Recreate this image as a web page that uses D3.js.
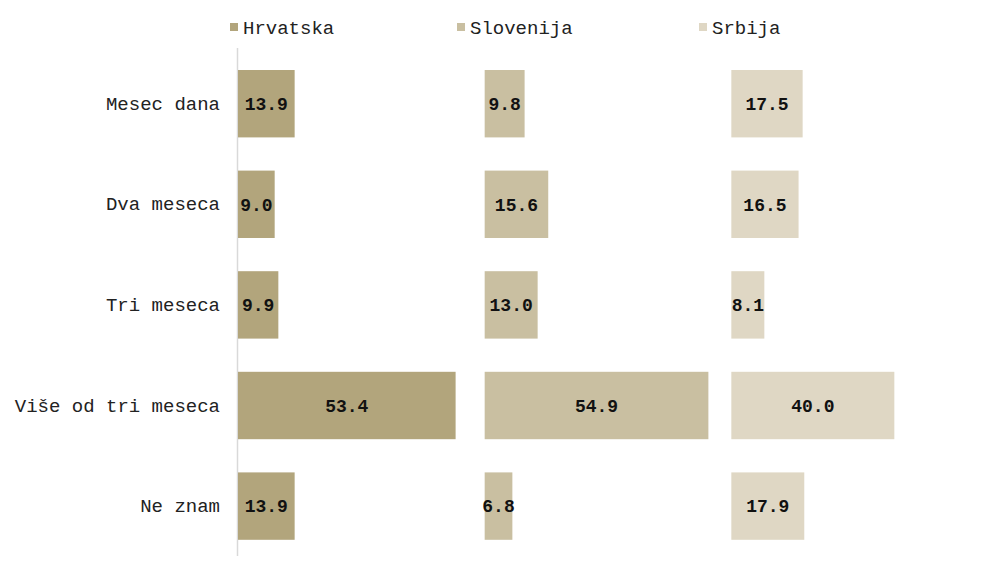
<!DOCTYPE html>
<html>
<head>
<meta charset="utf-8">
<script src="https://cdn.jsdelivr.net/npm/d3@7"></script>
<style>
  html, body { margin: 0; padding: 0; background: #fff; }
  svg { display: block; }
  text { font-family: "Liberation Mono", "Courier New", monospace; }
</style>
</head>
<body>
<svg id="chart" width="1000" height="562"></svg>
<script>
const categories = ["Mesec dana", "Dva meseca", "Tri meseca", "Više od tri meseca", "Ne znam"];
const countries = ["Hrvatska", "Slovenija", "Srbija"];
const hrvatska = [13.9, 9.0, 9.9, 53.4, 13.9];
const slovenija = [9.8, 15.6, 13.0, 54.9, 6.8];
const srbija = [17.5, 16.5, 8.1, 40.0, 17.9];
const colors = ["#B2A57C", "#C9BFA1", "#DFD7C4"];

const seriesValues = [hrvatska, slovenija, srbija];

const svg = d3.select("#chart");

const y = d3.scaleBand()
  .domain(categories)
  .range([53.4, 556.4])
  .paddingInner(0.33)
  .paddingOuter(0.165);

const panel = d3.scaleBand()
  .domain(countries)
  .range([238, 978])
  .paddingInner(0);

const x = d3.scaleLinear().domain([0, 60]).range([0, 244.5]);

const color = d3.scaleOrdinal().domain(countries).range(colors);

// vertical axis line
svg.append("line")
  .attr("x1", 237.5).attr("x2", 237.5)
  .attr("y1", 48).attr("y2", 556)
  .attr("stroke", "#d9d9d9").attr("stroke-width", 1.5);

// category labels
const yAxis = svg.append("g")
  .attr("transform", "translate(238,0)")
  .call(d3.axisLeft(y).tickSize(0).tickPadding(18));
yAxis.select(".domain").remove();
yAxis.selectAll("text")
  .style("font-family", '"Liberation Mono", "Courier New", monospace')
  .style("font-size", "19px")
  .attr("fill", "#222");

countries.forEach((c, ci) => {
  const g = svg.append("g").attr("transform", `translate(${panel(c)},0)`);
  const vals = seriesValues[ci];
  const data = categories.map((cat, i) => ({cat, v: vals[i]}));
  g.selectAll("rect").data(data).enter().append("rect")
    .attr("x", x(0))
    .attr("y", d => y(d.cat))
    .attr("width", d => x(d.v) - x(0))
    .attr("height", y.bandwidth())
    .attr("fill", color(c));
  g.selectAll("text.val").data(data).enter().append("text")
    .attr("class", "val")
    .attr("x", d => (x(0) + x(d.v)) / 2)
    .attr("y", d => y(d.cat) + y.bandwidth() / 2)
    .attr("dy", "0.35em")
    .attr("text-anchor", "middle")
    .style("font-size", "18px")
    .style("font-weight", "bold")
    .attr("fill", "#111")
    .text(d => d.v.toFixed(1));
});

// legend
const legendX = [230, 457, 699];
const legend = svg.append("g");
countries.forEach((c, i) => {
  legend.append("rect")
    .attr("x", legendX[i]).attr("y", 23)
    .attr("width", 8).attr("height", 8)
    .attr("fill", color(c));
  legend.append("text")
    .attr("x", legendX[i] + 13).attr("y", 27)
    .attr("dy", "0.35em")
    .style("font-size", "19px")
    .attr("fill", "#222")
    .text(c);
});
</script>
</body>
</html>
